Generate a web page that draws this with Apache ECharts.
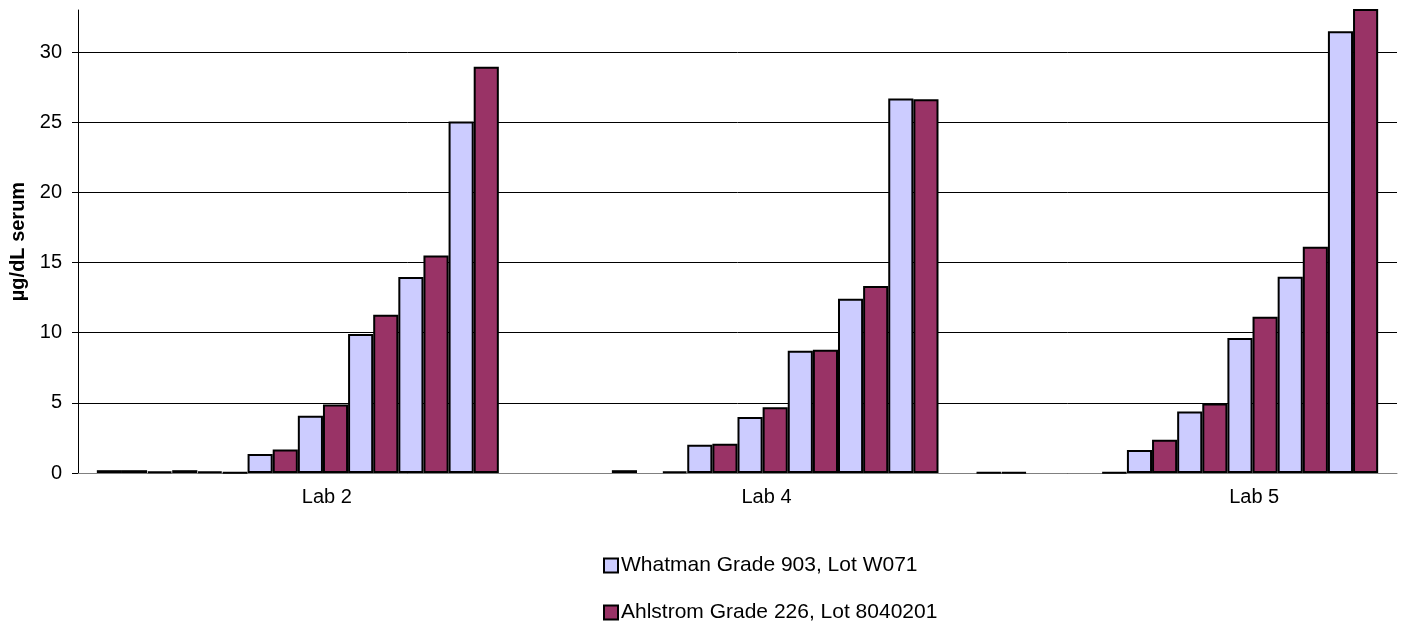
<!DOCTYPE html>
<html>
<head>
<meta charset="utf-8">
<script src="https://cdn.jsdelivr.net/npm/echarts@6/dist/echarts.min.js"></script>
<style>
html,body{margin:0;padding:0;background:#fff;}
#chart{width:1401px;height:626px;}
</style>
</head>
<body>
<div id="chart"></div>
<script>
const labs = ['Lab 2', 'Lab 4', 'Lab 5'];
const seriesNames = ['Whatman Grade 903, Lot W071', 'Ahlstrom Grade 226, Lot 8040201'];
const yTicks = [0, 5, 10, 15, 20, 25, 30];

// 8 concentration levels per lab, per filter paper
const whatmanLab2  = [0.2, 0.1, 0.1, 1.35, 4.08, 9.9, 13.97, 25.06];
const ahlstromLab2 = [0.2, 0.2, 0.03, 1.68, 4.89, 11.28, 15.51, 28.96];
const whatmanLab4  = [null, null, null, 2.02, 3.99, 8.72, 12.42, 26.7];
const ahlstromLab4 = [null, 0.2, 0.1, 2.09, 4.68, 8.79, 13.33, 26.63];
const whatmanLab5  = [0.05, null, null, 1.64, 4.39, 9.62, 13.99, 31.48];
const ahlstromLab5 = [0.05, null, 0.05, 2.37, 4.96, 11.14, 16.13, 35.5];

const FONT = '"Liberation Sans", Arial, sans-serif';
const colors = ['#CCCCFF', '#993366'];
const labelShift = [58, 58, 154];

const series = [];
for (let i = 0; i < whatmanLab2.length; i++) {
  const pairs = [
    [whatmanLab2[i], whatmanLab4[i], whatmanLab5[i]],
    [ahlstromLab2[i], ahlstromLab4[i], ahlstromLab5[i]]
  ];
  for (let p = 0; p < 2; p++) {
    series.push({
      name: seriesNames[p],
      type: 'bar',
      data: pairs[p],
      barGap: '0%',
      barCategoryGap: '8.57%',
      clip: true,
      itemStyle: { color: colors[p], borderColor: '#000', borderWidth: 2 },
      emphasis: { disabled: true }
    });
  }
}

const rich = {};
labelShift.forEach((s, i) => {
  rich['l' + i] = { fontSize: 20, fontFamily: FONT, color: '#000', padding: [0, 0, 0, s] };
});

const legendBase = {
  orient: 'vertical',
  left: 603,
  padding: 0,
  itemWidth: 14,
  itemHeight: 14,
  icon: 'rect',
  textStyle: { fontSize: 21, fontFamily: FONT, color: '#000', padding: [0, 0, 0, -2] }
};

const chart = echarts.init(document.getElementById('chart'));
chart.setOption({
  animation: false,
  backgroundColor: '#fff',
  textStyle: { fontFamily: FONT },
  grid: { left: 78, right: 4, top: 10, bottom: 153, containLabel: false },
  legend: [
    Object.assign({}, legendBase, { top: 555, data: [seriesNames[0]] }),
    Object.assign({}, legendBase, { top: 602, data: [seriesNames[1]] })
  ],
  xAxis: {
    type: 'category',
    data: labs,
    axisLine: { lineStyle: { color: '#808080', width: 1 } },
    axisTick: { show: false },
    axisLabel: {
      margin: 14,
      formatter: (v, idx) => '{l' + idx + '|' + v + '}',
      rich: rich
    },
    splitLine: { show: false }
  },
  yAxis: {
    type: 'value',
    min: 0,
    max: 33,
    interval: 5,
    name: 'µg/dL serum',
    nameLocation: 'middle',
    nameGap: 50,
    nameTextStyle: { fontSize: 20, fontWeight: 'bold', fontFamily: FONT, color: '#000' },
    axisLine: { show: true, lineStyle: { color: '#000', width: 1 } },
    axisTick: { show: true, inside: false, length: 6, lineStyle: { color: '#000' }, customValues: yTicks },
    axisLabel: { fontSize: 20, fontFamily: FONT, color: '#000', margin: 16, customValues: yTicks },
    splitLine: { show: true, lineStyle: { color: '#000', width: 1 } }
  },
  series: series
});
</script>
</body>
</html>
